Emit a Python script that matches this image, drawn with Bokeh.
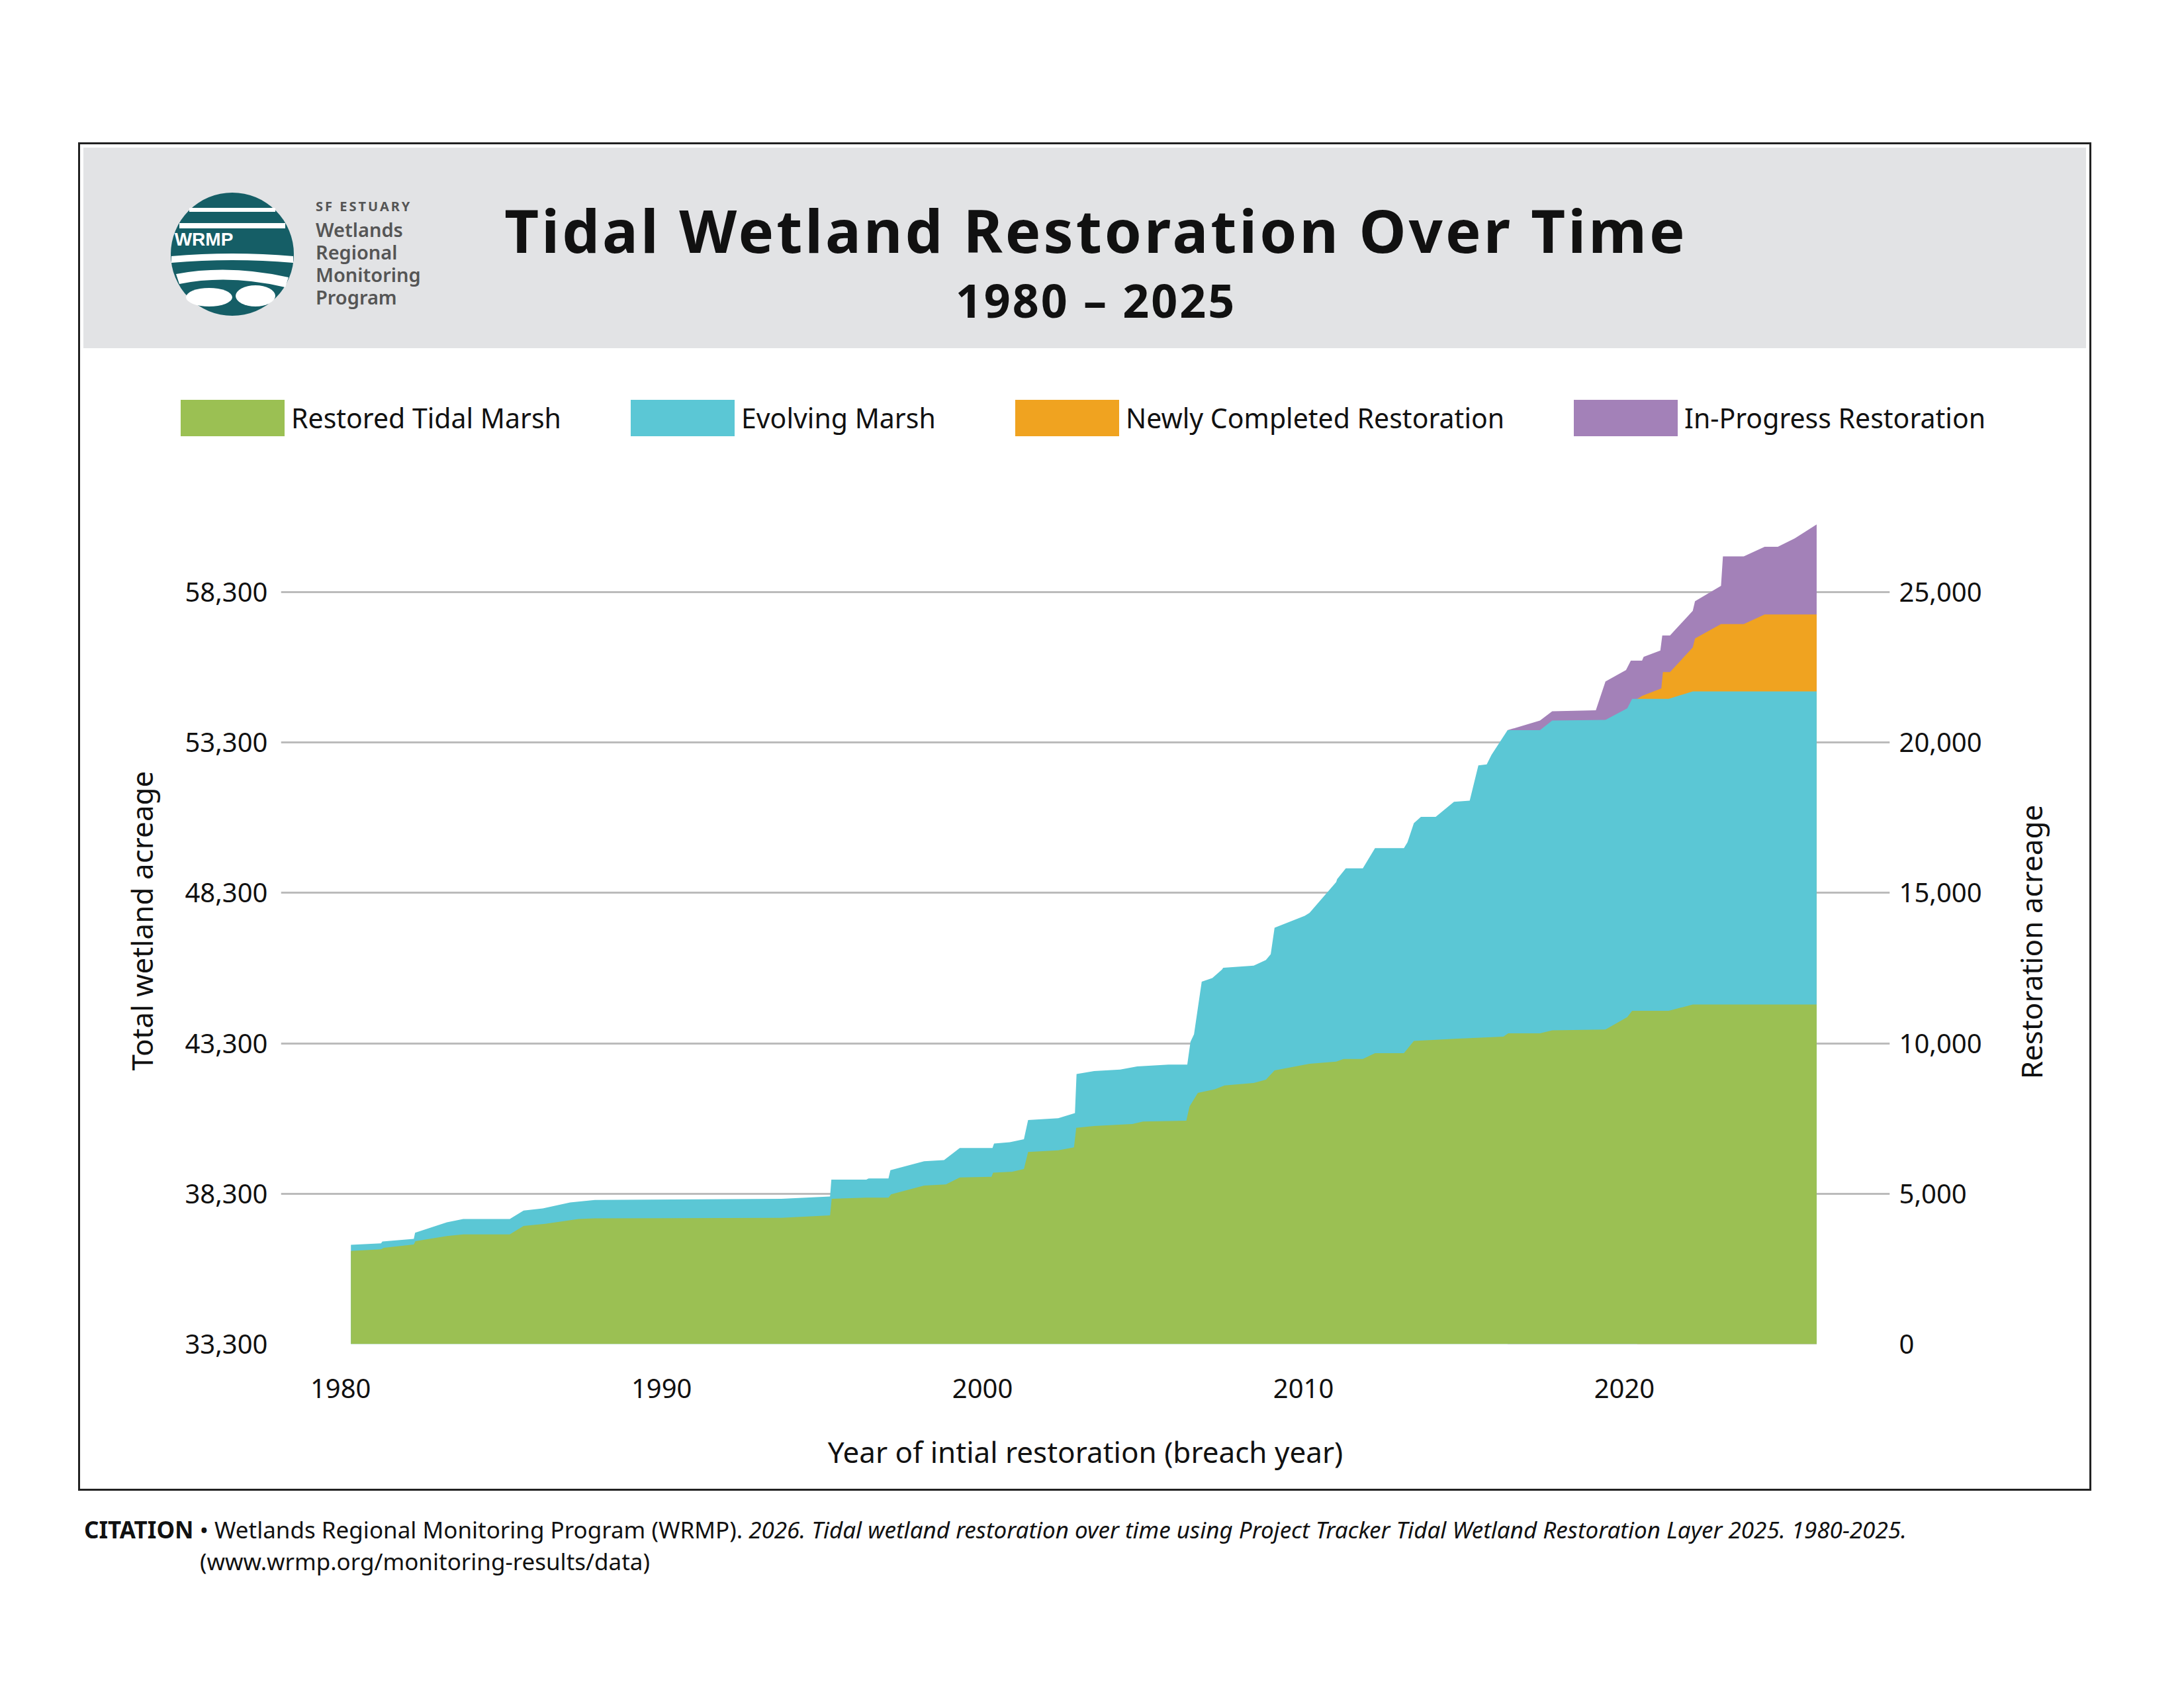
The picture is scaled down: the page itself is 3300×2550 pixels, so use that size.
from bokeh.plotting import figure
from bokeh.models import (Range1d, LinearAxis, FixedTicker, NumeralTickFormatter, Div, Spacer)
from bokeh.layouts import column, row
from bokeh.embed import file_html
from bokeh.resources import INLINE

# ---------------- data (year, cumulative restoration acreage at top of layer) ----
RESTORED = [(1980.32, 3100), (1981.26, 3150), (1981.35, 3200), (1982.28, 3310), (1982.33, 3420),
            (1983.31, 3590), (1983.82, 3650), (1985.27, 3650), (1985.70, 3930), (1986.38, 4000),
            (1987.41, 4160), (1987.92, 4180), (1993.73, 4200), (1995.25, 4280), (1995.30, 4830),
            (1996.38, 4870), (1997.07, 4870), (1997.15, 4980), (1998.18, 5270), (1998.86, 5310),
            (1999.29, 5540), (2000.28, 5560), (2000.33, 5700), (2000.91, 5730), (2001.29, 5820),
            (2001.42, 6390), (2002.36, 6440), (2002.85, 6540), (2002.92, 7190), (2003.48, 7250),
            (2004.67, 7320), (2005.00, 7400), (2006.35, 7430), (2006.45, 7900), (2006.71, 8350),
            (2007.24, 8470), (2007.54, 8600), (2008.45, 8680), (2008.83, 8790), (2009.10, 9100),
            (2010.19, 9320), (2011.02, 9390), (2011.25, 9480), (2011.85, 9480), (2012.23, 9670),
            (2013.13, 9670), (2013.44, 10080), (2014.72, 10150), (2016.23, 10220), (2016.38, 10330),
            (2017.37, 10330), (2017.75, 10430), (2019.41, 10460), (2020.09, 10870), (2020.24, 11080),
            (2021.38, 11080), (2022.13, 11290), (2025.99, 11290)]

EVOLVING = [(1980.32, 3300), (1981.26, 3350), (1981.30, 3410), (1982.28, 3500), (1982.32, 3700),
            (1983.31, 4050), (1983.82, 4160), (1985.27, 4160), (1985.70, 4440), (1986.30, 4510),
            (1987.15, 4710), (1987.92, 4790), (1993.73, 4830), (1995.25, 4910), (1995.29, 5470),
            (1996.38, 5470), (1996.45, 5510), (1997.07, 5510), (1997.13, 5780), (1998.18, 6080),
            (1998.80, 6120), (1999.05, 6320), (1999.29, 6520), (2000.31, 6520), (2000.36, 6670),
            (2000.85, 6710), (2001.29, 6810), (2001.42, 7450), (2002.36, 7510), (2002.88, 7680),
            (2002.93, 8980), (2003.48, 9080), (2004.29, 9130), (2004.82, 9230), (2005.80, 9290),
            (2006.38, 9290), (2006.48, 10050), (2006.59, 10300), (2006.83, 12050), (2007.16, 12170),
            (2007.46, 12450), (2007.50, 12510), (2008.45, 12580), (2008.83, 12770), (2008.98, 12960),
            (2009.10, 13840), (2010.04, 14240), (2010.19, 14340), (2011.02, 15360), (2011.05, 15460),
            (2011.32, 15820), (2011.85, 15820), (2012.23, 16490), (2013.13, 16490), (2013.24, 16680),
            (2013.44, 17320), (2013.66, 17530), (2014.12, 17530), (2014.69, 18030), (2015.18, 18070),
            (2015.45, 19240), (2015.71, 19270), (2015.86, 19590), (2016.36, 20410), (2017.37, 20410),
            (2017.75, 20730), (2019.41, 20750), (2020.09, 21140), (2020.24, 21450), (2021.38, 21450),
            (2022.13, 21700), (2025.99, 21700)]

NEWLY_COMPLETED = [(2020.40, 21450), (2020.55, 21550), (2021.15, 21800), (2021.20, 22340),
                   (2021.42, 22340), (2022.13, 23160), (2022.20, 23460), (2023.01, 23940),
                   (2023.72, 23940), (2024.37, 24260), (2025.99, 24260)]

IN_PROGRESS = [(2016.36, 20410), (2017.37, 20730), (2017.75, 21040), (2019.11, 21070),
               (2019.41, 22030), (2020.05, 22410), (2020.20, 22720), (2020.55, 22720),
               (2020.60, 22850), (2021.12, 23060), (2021.18, 23560), (2021.42, 23560),
               (2022.13, 24380), (2022.20, 24700), (2023.01, 25210), (2023.07, 26190),
               (2023.72, 26190), (2024.37, 26510), (2024.78, 26510), (2025.31, 26790),
               (2025.99, 27250)]

SERIES_NAMES = ["Restored Tidal Marsh", "Evolving Marsh",
                "Newly Completed Restoration", "In-Progress Restoration"]
COLORS = ["#9bc053", "#5bc7d5", "#f0a320", "#a381b8"]
RIGHT_TICKS = [0, 5000, 10000, 15000, 20000, 25000]
LEFT_TICKS = [33300, 38300, 43300, 48300, 53300, 58300]
BASE_TOTAL = 33300
X_TICKS = [1980, 1990, 2000, 2010, 2020]

FONT = "Noto Sans"
BOX_W = 3026
HEADER_H = 303
LEGEND_H = 150
FIG_H = 1548
RTITLE_W = 143
FIG_W = BOX_W - RTITLE_W
MB_TOP, MB_BOTTOM = 60, 209
FRAME_H = FIG_H - MB_TOP - MB_BOTTOM
PX_PER_ACRE = 45.44 / 1000.0
Y_END = FRAME_H / PX_PER_ACRE

p = figure(width=FIG_W, height=FIG_H, output_backend="svg", toolbar_location=None,
           x_range=Range1d(1978.14, 2028.27), y_range=Range1d(0, Y_END),
           min_border_left=303, min_border_right=292 - RTITLE_W, min_border_top=MB_TOP,
           min_border_bottom=MB_BOTTOM, y_axis_location=None, x_axis_location=None)
p.outline_line_color = None
p.background_fill_color = "white"
p.border_fill_color = "white"
p.extra_y_ranges = {"total": Range1d(BASE_TOTAL, BASE_TOTAL + Y_END)}

layers = [RESTORED, EVOLVING, NEWLY_COMPLETED, IN_PROGRESS]
for i in [3, 2, 1, 0]:
    xs = [a for a, b in layers[i]]
    ys = [b for a, b in layers[i]]
    p.varea(x=xs, y1=[0] * len(xs), y2=ys, fill_color=COLORS[i])

xaxis = LinearAxis(ticker=FixedTicker(ticks=X_TICKS), axis_label="Year of intial restoration (breach year)")
left = LinearAxis(y_range_name="total", ticker=FixedTicker(ticks=LEFT_TICKS),
                  formatter=NumeralTickFormatter(format="0,0"), axis_label="Total wetland acreage")
right = LinearAxis(ticker=FixedTicker(ticks=RIGHT_TICKS),
                   formatter=NumeralTickFormatter(format="0,0"))
for ax in (xaxis, left, right):
    ax.axis_line_color = None
    ax.major_tick_line_color = None
    ax.minor_tick_line_color = None
    ax.major_label_text_font = FONT
    ax.major_label_text_font_size = "40px"
    ax.major_label_text_color = "#111111"
    ax.axis_label_text_font = FONT
    ax.axis_label_text_font_size = "44px"
    ax.axis_label_text_font_style = "normal"
    ax.axis_label_text_color = "#111111"
xaxis.major_label_standoff = 46
xaxis.axis_label_standoff = 48
left.major_label_standoff = 14
left.axis_label_standoff = 32
right.major_label_standoff = 8
p.add_layout(xaxis, "below")
p.add_layout(left, "left")
p.add_layout(right, "right")

p.xgrid.visible = False
p.ygrid.ticker = FixedTicker(ticks=RIGHT_TICKS)
p.ygrid.grid_line_color = "#bbbbbb"
p.ygrid.grid_line_width = 3

# right-hand axis title (reads bottom-to-top)
rtitle = Div(text=(f'<div style="position:relative;width:{RTITLE_W}px;height:{FIG_H}px;">'
                   '<div style="position:absolute;left:60px;top:727px;'
                   'transform:translate(-50%,-50%) rotate(-90deg);white-space:nowrap;'
                   'font-family:\'Noto Sans\';font-size:44px;color:#111;">Restoration acreage</div></div>'),
             width=RTITLE_W, height=FIG_H, styles={"background-color": "white"})

# legend (HTML)
LEGEND_X = [147, 827, 1408, 2252]
items = ""
for name, color, x in zip(SERIES_NAMES, COLORS, LEGEND_X):
    items += (f'<div style="position:absolute;left:{x}px;top:68px;width:157px;height:55px;'
              f'background:{color};"></div>'
              f'<div style="position:absolute;left:{x + 167}px;top:95px;transform:translateY(-50%);'
              f'white-space:nowrap;font-family:\'Noto Sans\';font-size:41px;color:#111;">{name}</div>')
legend_div = Div(text=f'<div style="position:relative;width:{BOX_W}px;height:{LEGEND_H}px;">{items}</div>',
                 width=BOX_W, height=LEGEND_H, styles={"background-color": "white"})

logo_svg = (
    '<svg width="190" height="190" viewBox="0 0 190 190">'
    '<circle cx="95" cy="95" r="93" fill="#155e66"/>'
    '<rect x="30" y="25" width="130" height="6" fill="white"/>'
    '<rect x="15" y="48" width="160" height="8" fill="white"/>'
    '<text x="52" y="82" font-family="Noto Sans" font-weight="bold" font-size="28" fill="white" '
    'text-anchor="middle">WRMP</text>'
    '<path d="M3 98 Q95 90 187 98 L187 108 Q95 100 3 108 Z" fill="white"/>'
    '<path d="M10 125 Q90 110 180 130 L175 145 Q90 125 15 140 Z" fill="white"/>'
    '<ellipse cx="60" cy="160" rx="35" ry="14" fill="white"/>'
    '<ellipse cx="130" cy="158" rx="30" ry="16" fill="white"/>'
    '</svg>')

header_html = (
    f'<div style="position:relative;width:{BOX_W}px;height:{HEADER_H}px;">'
    f'<div style="position:absolute;left:130px;top:66px;">{logo_svg}</div>'
    '<div style="position:absolute;left:351px;top:77px;font-family:\'Noto Sans\';font-weight:700;'
    'font-size:20px;line-height:24px;letter-spacing:3px;color:#555;">SF ESTUARY</div>'
    '<div style="position:absolute;left:351px;top:107px;font-family:\'Noto Sans\';font-weight:600;'
    'font-size:29px;line-height:34px;color:#555;">Wetlands<br>Regional<br>Monitoring<br>Program</div>'
    '<div style="position:absolute;left:1530px;top:124px;transform:translate(-50%,-50%);'
    'white-space:nowrap;font-family:\'Noto Sans\';font-weight:700;font-size:90px;letter-spacing:4px;'
    'color:#111;">Tidal Wetland Restoration Over Time</div>'
    '<div style="position:absolute;left:1530px;top:230px;transform:translate(-50%,-50%);'
    'white-space:nowrap;font-family:\'Noto Sans\';font-weight:700;font-size:70px;letter-spacing:3px;'
    'color:#111;">1980 \u2013 2025</div>'
    '</div>')
header = Div(text=header_html, width=BOX_W, height=HEADER_H,
             styles={"background-color": "#e2e3e5"})

citation_html = (
    '<div style="font-family:\'Liberation Sans Narrow\',\'Noto Sans\';font-size:35px;color:#111;'
    'line-height:48px;white-space:nowrap;">'
    '<b>CITATION</b> \u2022 Wetlands Regional Monitoring Program (WRMP). <i>2026. Tidal wetland '
    'restoration over time using Project Tracker Tidal Wetland Restoration Layer 2025. 1980-2025.</i>'
    '<br><span style="padding-left:175px;">(www.wrmp.org/monitoring-results/data)</span></div>')
citation = Div(text=citation_html, width=3000, height=110)

box = column(header, legend_div, row(p, rtitle, spacing=0), spacing=0,
             styles={"border": "3px solid #222"})

layout = column(
    Spacer(height=215),
    row(Spacer(width=118), box),
    Spacer(height=30),
    row(Spacer(width=122), citation),
    spacing=0)

with open("out.html", "w") as f:
    f.write(file_html(layout, INLINE))
